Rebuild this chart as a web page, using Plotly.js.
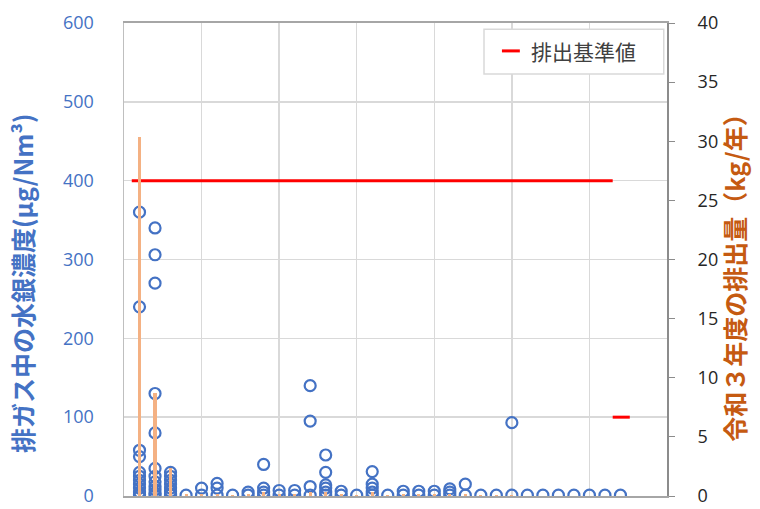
<!DOCTYPE html>
<html>
<head>
<meta charset="utf-8">
<script src="https://cdn.plot.ly/plotly-3.0.1.min.js"></script>
<style>html,body{margin:0;padding:0;background:#fff;}#chart{width:760px;height:509px;}</style>
</head>
<body>
<div id="chart"></div>
<script>
// Facility column positions (index 1..32, plotted at index*0.2)
const facilityIndex = [1,2,3,4,5,6,7,8,9,10,11,12,13,14,15,16,17,18,19,20,21,22,23,24,25,26,27,28,29,30,31,32];
// Mercury concentration per facility (µg/Nm3), several measurements each
const concentration = [
  [360,240,58,50,30,25,20,15,10,5,2,0],
  [340,306,270,130,80,35,25,18,12,8,4,1],
  [30,25,20,15,10,6,3,1],
  [1],
  [10,1],
  [16,10,1],
  [1],
  [5,1],
  [40,10,5,1],
  [1,7],
  [1,7],
  [140,95,12,1],
  [52,30,14,10,5,1],
  [1,6],
  [1],
  [31,15,10,5,1],
  [1],
  [1,6],
  [1,6],
  [1,6],
  [9,5,1],
  [15,1],
  [1],
  [1],
  [93,1],
  [1],[1],[1],[1],[1],[1],[1]
];
// Emissions in Reiwa 3 (kg/year)
const emission = [30.4,8.7,2.4,0.2,0.2,0.2,0.1,0.2,0.3,0.2,0.2,0.3,0.3,0.2,0.1,0.3,0.1,0.2,0.2,0.2,0.2,0.2,0.1,0.1,0.1,0,0,0,0,0,0,0];
// Emission standard lines
const standardX = [0.1, 6.3];
const standardY = [400, 400];
const standard2X = [6.3, 6.52];
const standard2Y = [100, 100];
const legendLabel = '排出基準値';
const leftTitle = '排ガス中の水銀濃度(μg/Nm³)';
const rightTitle = '令和３年度の排出量（kg/年）';

const step = 0.2;
const cx = [], cy = [];
facilityIndex.forEach((f, i) => {
  concentration[i].forEach(v => { cx.push(f * step); cy.push(v); });
});
const ex = facilityIndex.map(f => f * step);

const font = 'Noto Sans CJK JP, Noto Sans, sans-serif';
const numFont = 'Open Sans, sans-serif';

const traces = [
  {
    type: 'scatter', mode: 'markers', x: cx, y: cy, xaxis: 'x', yaxis: 'y',
    marker: {symbol: 'circle-open', size: 11, color: '#4472C4', line: {width: 2.2, color: '#4472C4'}},
    showlegend: false, hoverinfo: 'skip'
  },
  {
    type: 'bar', x: ex, y: emission, xaxis: 'x', yaxis: 'y2', width: 0.04,
    marker: {color: '#F4B183', line: {width: 0}},
    showlegend: false, hoverinfo: 'skip'
  },
  {
    type: 'scatter', mode: 'lines', x: standardX, y: standardY, xaxis: 'x', yaxis: 'y',
    line: {color: '#FF0000', width: 3}, name: legendLabel, showlegend: false
  },
  {
    type: 'scatter', mode: 'lines', x: standard2X, y: standard2Y, xaxis: 'x', yaxis: 'y',
    line: {color: '#FF0000', width: 3}, showlegend: false
  }
];

const layout = {
  width: 760, height: 509,
  margin: {l: 124, r: 93, t: 23, b: 13, pad: 0},
  paper_bgcolor: '#ffffff', plot_bgcolor: '#ffffff',
  font: {family: font, size: 18, color: '#404040'},
  showlegend: false,
  xaxis: {
    range: [0, 7], dtick: 1, tick0: 0, showticklabels: false, ticks: '',
    showgrid: true, gridcolor: '#D9D9D9', gridwidth: 1.5, zeroline: false,
    showline: true, linecolor: '#A6A6A6', linewidth: 2, mirror: true
  },
  yaxis: {
    range: [0, 600], dtick: 100, showgrid: true, gridcolor: '#D9D9D9', gridwidth: 1.5,
    zeroline: false, showline: true, linecolor: '#BFBFBF', linewidth: 1.5,
    ticks: '', ticklabelstandoff: 25, ticklabeloverflow: 'allow',
    tickfont: {family: numFont, size: 18, color: '#4472C4'}
  },
  yaxis2: {
    overlaying: 'y', side: 'right', range: [0, 40], dtick: 5,
    showgrid: false, zeroline: false, showline: true, linecolor: '#8C8C8C', linewidth: 2,
    ticks: 'outside', ticklen: 6, tickcolor: '#8C8C8C', ticklabelstandoff: 19,
    ticklabeloverflow: 'allow',
    tickfont: {family: numFont, size: 18, color: '#262626'}
  },
  bargap: 0,
  shapes: [
    {type: 'rect', xref: 'paper', yref: 'paper', x0: 0.663, x1: 0.994, y0: 0.892, y1: 0.987,
     line: {color: '#D9D9D9', width: 1.5}, fillcolor: '#ffffff', layer: 'above'},
    {type: 'line', xref: 'paper', yref: 'paper', x0: 0.696, x1: 0.729, y0: 0.941, y1: 0.941,
     line: {color: '#FF0000', width: 3}, layer: 'above'}
  ],
  annotations: [
    {
      text: legendLabel, xref: 'paper', yref: 'paper', x: 0.746, y: 0.941,
      xanchor: 'left', yanchor: 'middle', showarrow: false,
      font: {family: font, size: 21, color: '#404040'}
    },
    {
      text: leftTitle, xref: 'paper', yref: 'paper', x: -0.188, y: 0.45,
      xanchor: 'center', yanchor: 'middle', textangle: -90, showarrow: false,
      font: {family: font, size: 25, color: '#4472C4', weight: 'bold'}
    },
    {
      text: rightTitle, xref: 'paper', yref: 'paper', x: 1.124, y: 0.475,
      xanchor: 'center', yanchor: 'middle', textangle: -90, showarrow: false,
      font: {family: font, size: 25, color: '#C55A11', weight: 'bold'}
    }
  ]
};

Plotly.newPlot('chart', traces, layout, {staticPlot: true, displayModeBar: false});
</script>
</body>
</html>
